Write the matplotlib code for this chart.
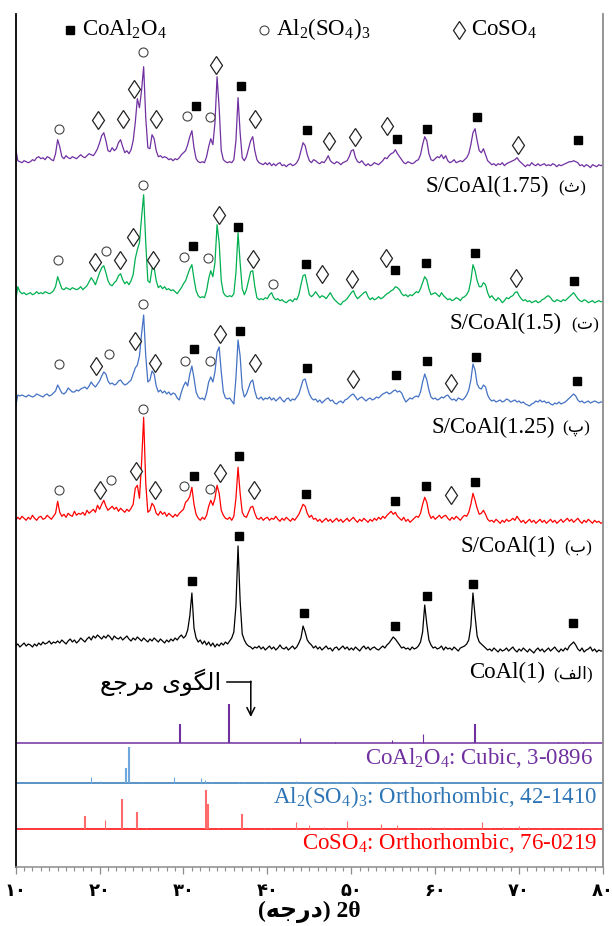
import numpy as np
import matplotlib.pyplot as plt
from matplotlib.lines import Line2D

plt.rcParams['mathtext.fontset'] = 'custom'
plt.rcParams['mathtext.rm'] = 'Liberation Serif'
plt.rcParams['mathtext.it'] = 'Liberation Serif:italic'
plt.rcParams['mathtext.bf'] = 'Liberation Serif:bold'
SERIF = ['Liberation Serif', 'DejaVu Sans']

# ---- intensities, 2theta 10..80 step 0.25 (height above each trace's own baseline) ----
s175_I = [14, 2, 1, 0, 2, 1, 0, 1, 3, 2, 5, 6, 4, 5, 3, 6, 5, 3, 2, 9,
          23, 16, 6, 4, 7, 5, 4, 6, 5, 4, 6, 8, 6, 5, 7, 9, 8, 7, 10, 14,
          20, 27, 30, 22, 12, 11, 15, 12, 14, 20, 23, 16, 10, 12, 9, 13, 22, 40, 64, 55,
          72, 96, 45, 15, 14, 28, 24, 12, 6, 7, 5, 6, 5, 3, 4, 2, 4, 3, 5, 8,
          10, 12, 18, 26, 32, 15, 4, 1, 0, 1, 0, 6, 16, 24, 18, 40, 86, 55, 12, 3,
          1, 0, 1, 0, 3, 22, 65, 30, 5, 2, 6, 14, 22, 26, 12, 3, 0, -1, -2, 0,
          -2, 0, -3, -1, -3, -1, 0, -3, -2, -4, -2, -1, -3, -2, 0, 4, 12, 20, 17, 8,
          2, 0, 3, 2, 0, -1, 1, 0, 3, 7, 2, 0, -1, 1, 0, -2, 0, 1, 2, 6,
          12, 13, 5, 1, 0, 2, -1, -3, -1, -3, -2, 0, -1, -2, 0, 2, 5, 4, 7, 9,
          10, 13, 9, 6, 3, 0, -1, 1, 0, -1, 0, 2, 3, 8, 18, 26, 22, 9, 3, 2,
          4, 6, 5, 8, 4, 7, 2, 0, 1, 3, 0, 1, 2, 1, 3, 5, 9, 18, 30, 34,
          22, 12, 10, 14, 8, 2, 0, -2, -1, -3, -1, -2, 0, -3, -1, 0, 1, 2, 3, 5,
          2, 0, -2, -4, -2, -3, 0, -2, -3, -1, -3, -2, -1, -3, -2, -3, -1, -2, -4, -2,
          -3, -2, -1, 0, 1, 1, 2, 1, 0, -3, -2, -4, -2, -3, -5, -2, -3, -4, -2, -3,
          -2]
s15_I = [-8, 6, 1, -1, 0, -2, -1, 0, -2, -1, 1, -1, 0, -1, 1, 0, -1, 0, 2, 6,
         16, 10, 4, 3, 5, 4, 3, 5, 4, 3, 4, 6, 3, 5, 7, 11, 15, 12, 8, 14,
         20, 25, 27, 20, 12, 8, 7, 10, 12, 17, 19, 13, 9, 11, 8, 12, 18, 34, 43, 50,
         75, 98, 50, 12, 10, 24, 25, 12, 5, 7, 4, 6, 3, 4, 2, 3, 1, -1, 2, 5,
         9, 12, 18, 24, 28, 14, 2, -3, -5, -4, -5, 2, 14, 22, 16, 30, 68, 50, 12, 0,
         -3, -4, -3, -4, -1, 20, 60, 30, 4, -2, 3, 12, 21, 22, 6, -5, -7, -6, -7, -5,
         -6, -2, 0, -5, -7, -6, -8, -7, -9, -10, -8, -7, -9, -6, -7, -2, 8, 17, 18, 8,
         -2, -4, -2, 1, -2, -5, -3, -4, -6, -3, 0, -4, -7, -9, -11, -12, -9, -8, -6, -3,
         0, 2, -3, -6, -4, -2, 0, 1, -4, -7, -5, -7, -6, -4, -6, -5, -3, -1, 0, 2,
         3, 6, 5, 3, -1, -3, -2, -4, -2, -3, -1, 1, 0, 4, 10, 16, 13, 4, -2, -1,
         0, -2, -4, 0, -3, -5, -7, -6, -8, -7, -5, -6, -8, -5, -4, -2, 2, 12, 28, 22,
         12, 6, 6, 10, 8, 0, -5, -3, -6, -8, -5, -7, -10, -8, -5, -6, -4, -3, 0, 1,
         -3, -6, -8, -7, -9, -8, -10, -9, -8, -10, -9, -7, -6, -4, -3, -5, -8, -9, -7, -8,
         -9, -7, -8, -6, -4, -2, 0, -3, -6, -8, -9, -7, -8, -10, -9, -8, -10, -9, -8, -9,
         -9]
s125_I = [-10, 1, 0, 1, 0, -1, 1, 0, -1, 0, 2, 1, 0, -1, 1, 2, 0, 1, 3, 5,
          11, 7, 3, 2, 4, 8, 6, 4, 4, 6, 5, 7, 8, 9, 7, 10, 14, 11, 9, 12,
          15, 20, 24, 22, 15, 12, 13, 11, 12, 15, 16, 13, 11, 12, 14, 16, 22, 28, 31, 40,
          62, 81, 40, 14, 16, 25, 22, 10, 4, 6, 3, 5, 2, 4, 1, 3, 2, -2, -4, 4,
          10, 14, 10, 22, 30, 18, 4, -1, -3, -2, -4, 3, 14, 19, 14, 24, 44, 49, 24, 4,
          -2, -3, -2, -5, -8, 18, 56, 40, 8, -1, 2, 8, 14, 16, 5, -2, -3, -1, -4, -2,
          -3, -1, -4, -2, -5, -3, -1, -4, -6, -3, -2, -5, -3, -4, -1, 2, 9, 16, 17, 9,
          2, -2, -4, -3, -6, -4, -7, -5, -3, -2, -5, -4, -7, -8, -6, -5, -7, -4, -3, -1,
          1, 2, -1, -4, -2, -1, -3, -5, -3, -2, -4, -3, -1, -2, 0, 2, 3, 4, 2, 3,
          5, 6, 4, 5, 3, -2, -6, -4, -2, -3, -1, 0, -1, 4, 14, 22, 16, 6, -1, -3,
          -2, -4, -3, -1, -2, 0, 1, -2, -4, -3, -5, -2, -3, -4, -2, 1, 6, 16, 32, 26,
          12, 8, 7, 11, 9, 1, -3, -5, -4, -6, -5, -4, -6, -5, -3, -4, -6, -5, -4, -6,
          -5, -7, -6, -8, -9, -10, -8, -7, -5, -6, -4, -6, -5, -7, -6, -8, -9, -7, -8, -6,
          -8, -7, -6, -4, -2, 0, 2, 0, -4, -6, -5, -7, -6, -5, -7, -6, -5, -6, -7, -6,
          -6]
s1_I = [-2, 1, -1, 2, 0, -2, 1, -1, 3, 0, -2, 1, 2, -1, 0, 3, 1, -1, 2, 5,
        17, 6, 2, 4, 1, 5, 3, 2, 7, 3, 5, 4, 6, 3, 8, 5, 7, 9, 6, 13,
        9, 14, 18, 12, 8, 10, 12, 9, 11, 7, 10, 8, 6, 9, 7, 10, 14, 30, 33, 20,
        55, 101, 35, 6, 8, 15, 12, 5, 3, 7, 4, 6, 2, 5, 3, 1, 4, 2, 5, 7,
        9, 16, 18, 22, 31, 14, 4, 0, -2, 1, -1, 3, 12, 18, 13, 20, 33, 25, 8, 3,
        0, -1, 1, -2, 2, 20, 51, 25, 6, 2, 1, 6, 11, 12, 5, 0, -1, 1, -2, 0,
        1, -2, 0, -1, 2, -1, -3, 0, -2, 1, -1, -3, 0, -2, 1, 4, 9, 14, 12, 5,
        1, 3, -1, 0, -3, -1, -4, -2, 0, -3, -1, -4, -2, 0, -3, -1, -4, -2, 0, -3,
        -1, 1, -2, -4, -1, -3, 0, -2, -4, -1, -3, 0, -2, 1, -1, 2, 0, 3, 5, 7,
        4, 6, 2, 0, -2, 1, -3, -1, -4, -2, 0, 2, 1, 5, 14, 21, 16, 5, 0, 2,
        -1, 1, 3, 0, 2, 3, 0, -2, 1, -1, 2, 0, -2, 1, 3, 2, 6, 14, 25, 18,
        10, 4, 5, 8, 4, -1, -3, -2, -4, -1, -3, -5, -2, -4, -1, -3, -2, 0, -2, 2,
        -1, -4, -2, -5, -3, -1, -4, -2, -5, -3, -1, -4, -2, -5, -3, -1, -4, -2, -5, -3,
        -1, -4, -2, 0, -3, -1, -4, -2, 0, -3, -5, -2, -4, -1, -3, -5, -2, -4, -3, -5,
        -4]
coal_I = [0, 2, -1, 1, 3, 0, 2, 1, -1, 2, 0, 3, 1, 4, 2, 3, 5, 2, 4, 3,
          5, 3, 6, 4, 2, 5, 7, 4, 6, 3, 5, 8, 6, 4, 7, 9, 6, 10, 8, 11,
          9, 7, 10, 8, 11, 9, 6, 10, 8, 7, 9, 6, 8, 10, 7, 5, 8, 6, 9, 7,
          5, 8, 6, 4, 7, 5, 8, 6, 4, 7, 5, 3, 6, 4, 7, 5, 8, 6, 9, 11,
          8, 10, 16, 30, 53, 18, 8, 4, 6, 2, 5, 1, 4, 0, 3, -1, 2, 0, 3, 1,
          4, 2, 5, 8, 14, 40, 100, 45, 12, 6, 2, 0, -1, -3, -1, -2, 0, -3, -1, -4,
          -2, 0, -3, -1, -4, -2, 1, -2, -3, -1, -4, -2, 0, -3, -1, 3, 8, 20, 14, 6,
          3, 1, -2, 0, -3, -1, -4, -2, 0, -3, -2, -5, -2, -1, -4, -2, 0, -3, -1, -4,
          -2, -4, -1, -3, -5, -2, 0, -3, -1, -4, -2, -1, -3, -4, -2, 0, -2, 1, 3, 6,
          9, 7, 4, 1, -2, -1, -3, -2, -4, -1, -3, -2, 0, 4, 14, 41, 22, 6, 1, -2,
          -1, -3, -2, 0, -4, -1, -3, -2, -4, -1, -3, -5, -2, -1, 0, 2, 6, 20, 53, 30,
          10, 4, 2, 0, -2, -4, -3, -5, -2, -4, -6, -3, -5, -4, -2, -5, -3, -1, -4, -6,
          -3, -5, -2, -4, -6, -3, -5, -7, -4, -2, -5, -3, -6, -4, -2, -5, -3, -1, -4, -6,
          -3, -5, -2, -4, 0, 2, 4, 1, -3, -5, -2, -6, -4, -3, -1, -5, -3, -6, -4, -5,
          -5]

# ---- phase marks (2theta, height above trace baseline) ----
s175_sq = [(31.49, 57), (36.85, 77), (44.67, 33), (55.48, 24), (58.98, 34), (64.93, 46), (77.02, 23)]
s175_ci = [(15.11, 34), (25.17, 111), (30.38, 47), (33.16, 46)]
s175_di = [(19.86, 43), (22.79, 44), (24.05, 74), (26.76, 44), (33.87, 98), (38.49, 44),
           (47.34, 22), (50.41, 26), (54.31, 37), (69.82, 18)]
s15_sq = [(31.13, 47), (36.53, 66), (44.59, 29), (55.15, 23), (58.88, 30), (64.7, 40), (76.57, 12)]
s15_ci = [(15.02, 33), (20.8, 42), (25.22, 108), (30.01, 36), (32.94, 35), (40.63, 9)]
s15_di = [(19.45, 31), (22.47, 33), (24.0, 56), (26.42, 33), (34.2, 78), (38.28, 34),
          (46.45, 19), (50.12, 14), (54.14, 35), (69.58, 15)]
s125_sq = [(31.31, 47), (36.76, 65), (44.72, 28), (55.29, 21), (58.98, 35), (64.84, 39), (76.9, 15)]
s125_ci = [(15.21, 32), (21.07, 42), (25.22, 92), (30.18, 35), (33.13, 35)]
s125_di = [(19.63, 30), (24.2, 55), (26.6, 33), (34.35, 62), (38.49, 33), (50.26, 17), (61.91, 13)]
s1_sq = [(31.22, 42), (36.62, 62), (44.6, 24), (55.24, 17), (58.88, 32), (64.79, 36)]
s1_ci = [(15.11, 28), (21.3, 38), (25.22, 109), (30.11, 32), (33.16, 29)]
s1_di = [(20.0, 28), (24.34, 47), (26.57, 28), (34.35, 45), (38.4, 28), (61.91, 23)]
coal_sq = [(31.04, 65), (36.62, 110), (44.4, 33), (55.15, 20), (58.98, 50), (64.55, 62), (76.47, 23)]

# ---- reference patterns (2theta, stick height) ----
ref_coal2o4 = [(29.6, 19), (35.4, 39), (43.9, 4.7), (48.0, 1), (54.9, 3.3), (58.6, 9.3),
               (64.8, 19), (74.6, 1), (77.6, 1.5)]
ref_al2so43 = [(19.0, 6.3), (20.0, 2), (23.2, 15.3), (23.5, 36.3), (25.05, 1.5), (28.9, 6.3),
               (32.1, 5), (32.6, 3), (33.3, 1.5), (36.6, 1), (37.2, 1), (39.6, 1), (43.4, 2),
               (45.4, 1), (47.2, 1), (48.2, 1), (50.1, 1), (51.2, 1), (53.0, 1), (54.7, 1.5),
               (55.7, 1), (57.2, 1), (60.0, 1)]
ref_coso4 = [(18.3, 13.7), (20.6, 9.7), (22.7, 30.3), (24.5, 17), (25.5, 1.3), (32.7, 39.7),
             (32.9, 25.3), (34.1, 1), (37.0, 15.3), (39.6, 1), (40.4, 1), (43.4, 7.3), (45.0, 4),
             (46.7, 2.7), (47.3, 1.3), (49.5, 8), (53.5, 5), (55.4, 4), (58.0, 1.5), (59.5, 2),
             (60.3, 1.5), (61.0, 2.7), (62.0, 1), (63.3, 1.5), (65.6, 7.7), (66.5, 1.5),
             (68.1, 2), (69.3, 1), (70.0, 3), (71.1, 2), (72.5, 1), (74.0, 1), (75.5, 1),
             (77.0, 1), (78.5, 1), (79.5, 1)]

xticks = [10, 20, 30, 40, 50, 60, 70, 80]
xtick_labels = ['\u06f1\u06f0', '\u06f2\u06f0', '\u06f3\u06f0', '\u06f4\u06f0',
                '\u06f5\u06f0', '\u06f6\u06f0', '\u06f7\u06f0', '\u06f8\u06f0']

PURPLE = '#7030a0'
GREEN = '#00b050'
BLUE = '#4472c4'
RED = '#ff0000'

fig = plt.figure(figsize=(6.12, 9.26), dpi=100)
ax = fig.add_axes([15.7 / 612, (926 - 866.5) / 926, (603 - 15.7) / 612, (866.5 - 14) / 926])
ax.set_xlim(10, 80)
ax.set_ylim(0, 852.5)


def fx(px):
    return px / 612


def fy(py):
    return 1 - py / 926


# trace baselines in data units (bottom of axes = 0)
traces = [(s175_I, PURPLE, 703.8), (s15_I, GREEN, 573.8), (s125_I, BLUE, 470.5),
          (s1_I, RED, 348.2), (coal_I, 'black', 220.5)]
for I, c, off in traces:
    tt = np.linspace(10, 80, len(I))
    ax.plot(tt, off + np.array(I, float), color=c, lw=0.9)


def marks(lst, off, kind):
    if not lst:
        return
    x = [p[0] for p in lst]
    y = [off + p[1] for p in lst]
    if kind == 'sq':
        ax.plot(x, y, 's', ms=6.3, color='black', clip_on=False)
    elif kind == 'ci':
        ax.plot(x, y, 'o', ms=6.5, mfc='white', mec='#444444', mew=0.8, clip_on=False)
    else:
        ax.plot(x, y, 'd', ms=9.5, mfc='white', mec='#222222', mew=0.9, clip_on=False)


for sq, ci, di, off in [(s175_sq, s175_ci, s175_di, 703.8), (s15_sq, s15_ci, s15_di, 573.8),
                        (s125_sq, s125_ci, s125_di, 470.5), (s1_sq, s1_ci, s1_di, 348.2),
                        (coal_sq, [], [], 220.5)]:
    marks(sq, off, 'sq')
    marks(ci, off, 'ci')
    marks(di, off, 'di')

# reference panels
for ref, c, stick_c, base in [(ref_coal2o4, PURPLE, PURPLE, 123.5),
                              (ref_al2so43, '#2e75b6', '#6fa8dc', 83.2),
                              (ref_coso4, RED, '#ff6b6b', 37.2)]:
    ax.axhline(base, color=c, lw=1.1)
    for t, h in ref:
        ax.vlines(t, base, base + h, color=stick_c, lw=1.5 if h > 12 else 0.8)

fig.text(fx(593), fy(764), r'CoAl$_\mathrm{2}$O$_\mathrm{4}$: Cubic, 3-0896', color=PURPLE,
         ha='right', va='baseline', fontsize=16.5, family=SERIF)
fig.text(fx(597), fy(803.3), r'Al$_\mathrm{2}$(SO$_\mathrm{4}$)$_\mathrm{3}$: Orthorhombic, 42-1410',
         color='#2e75b6', ha='right', va='baseline', fontsize=16.5, family=SERIF)
fig.text(fx(597), fy(849.3), r'CoSO$_\mathrm{4}$: Orthorhombic, 76-0219', color=RED,
         ha='right', va='baseline', fontsize=16.5, family=SERIF)

# sample labels: latin part right edge, persian letter left edge, baseline
labels = [('S/CoAl(1.75)', '(\u062b)', 549, 558, 192.5),
          ('S/CoAl(1.5)', '(\u062a)', 562, 571, 329.3),
          ('S/CoAl(1.25)', '(\u067e)', 555, 562, 432.7),
          ('S/CoAl(1)', '(\u0628)', 555, 564, 552.3),
          ('CoAl(1)', '(\ufed2\ufedf\ufe8d)', 545, 553, 678.3)]
for lat, fa, xr, xl, yb in labels:
    fig.text(fx(xr), fy(yb), lat, ha='right', va='baseline', fontsize=16.5, family=SERIF)
    fig.text(fx(xl), fy(yb), fa, ha='left', va='baseline', fontsize=12.5, family=SERIF)

# top legend
fig.add_artist(Line2D([fx(69.5)], [fy(30)], marker='s', ms=6.3, color='black', lw=0))
fig.add_artist(Line2D([fx(264)], [fy(30)], marker='o', ms=6.5, mfc='white', mec='#444444', mew=0.8, lw=0))
fig.add_artist(Line2D([fx(459)], [fy(30)], marker='d', ms=9.5, mfc='white', mec='#222222', mew=0.9, lw=0))
fig.text(fx(82), fy(35.5), r'CoAl$_\mathrm{2}$O$_\mathrm{4}$', ha='left', va='baseline',
         fontsize=16.5, family=SERIF)
fig.text(fx(276.5), fy(35.5), r'Al$_\mathrm{2}$(SO$_\mathrm{4}$)$_\mathrm{3}$', ha='left', va='baseline',
         fontsize=16.5, family=SERIF)
fig.text(fx(470.7), fy(35.5), r'CoSO$_\mathrm{4}$', ha='left', va='baseline',
         fontsize=16.5, family=SERIF)

# reference pattern note with arrow
fig.text(fx(221), fy(682), '\ufeca\ufe9f\ufeae\ufee3 \u06cc\ufeee\ufb95\ufedf\ufe8d',
         ha='right', va='center', fontsize=17.5, family=['DejaVu Sans'])
fig.add_artist(Line2D([fx(226.6), fx(250.8)], [fy(681.7), fy(681.7)], color='black', lw=1.1))
ax.annotate('', xy=(fx(250.8), fy(717)), xytext=(fx(250.8), fy(681.2)),
            xycoords='figure fraction', textcoords='figure fraction',
            arrowprops=dict(arrowstyle='->', lw=1.1, color='black', shrinkA=0, shrinkB=0,
                            mutation_scale=14))

# axes styling
ax.spines['top'].set_visible(False)
ax.spines['left'].set_color('black')
ax.spines['left'].set_linewidth(1.3)
ax.spines['right'].set_color('#8c8c8c')
ax.spines['right'].set_linewidth(1.3)
ax.spines['bottom'].set_color('#8c8c8c')
ax.spines['bottom'].set_linewidth(1.1)
ax.set_yticks([])
ax.set_xticks(xticks)
ax.set_xticklabels(xtick_labels, fontsize=13, fontweight='bold', family=['DejaVu Sans'])
ax.set_xticks(np.arange(10, 81, 1), minor=True)
ax.tick_params(axis='x', which='major', direction='out', length=5, width=0.9, color='#8c8c8c', pad=6)
ax.tick_params(axis='x', which='minor', direction='out', length=3, width=0.8, color='#8c8c8c')

fig.text(0.505, fy(912), '(\ufeea\ufe9f\ufead\ufea9) 2\u03b8', ha='center', va='center',
         fontsize=17, fontweight='bold', family=SERIF)

fig.savefig('out.png', dpi=100)
